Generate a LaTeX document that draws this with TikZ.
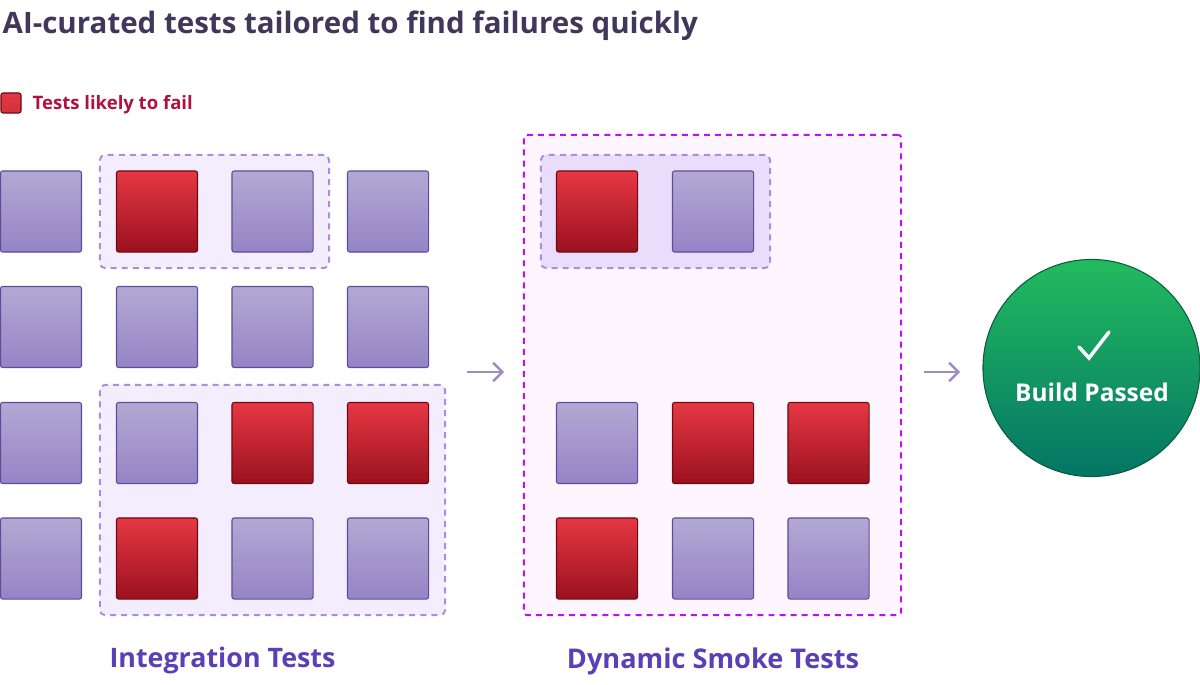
\documentclass[tikz,border=0pt]{standalone}
\usepackage{fontspec}
\setmainfont{Open Sans}
\usetikzlibrary{arrows.meta}

\definecolor{titleink}{HTML}{41375A}
\definecolor{failink}{HTML}{B0123F}
\definecolor{labelink}{HTML}{5B3FB5}
\definecolor{flowink}{HTML}{9A8CC4}
\definecolor{passtop}{HTML}{B3A8D3}
\definecolor{passbot}{HTML}{9584C6}
\definecolor{passline}{HTML}{5F4B9B}
\definecolor{failtop}{HTML}{E63744}
\definecolor{failbot}{HTML}{9B111E}
\definecolor{failline}{HTML}{6D0A12}
\definecolor{groupline}{HTML}{A58FE0}
\definecolor{groupfill}{HTML}{F4EDFE}
\definecolor{smokeline}{HTML}{C010F0}
\definecolor{smokefill}{HTML}{FEF6FE}
\definecolor{innerfill}{HTML}{E9DDFB}
\definecolor{greentop}{HTML}{22BB5E}
\definecolor{greenbot}{HTML}{047565}
\definecolor{greenline}{HTML}{0A5A3C}

\tikzset{
    testbox/.style={rectangle, rounded corners=0.6pt, minimum size=0.81cm, inner sep=0pt, line width=0.3pt},
    passbox/.style={testbox, top color=passtop, bottom color=passbot, draw=passline},
    failbox/.style={testbox, top color=failtop, bottom color=failbot, draw=failline},
    groupbox/.style={rectangle, rounded corners=1.4pt, inner sep=0pt, line width=0.55pt,
        dash pattern=on 1.7pt off 1.45pt, draw=groupline, fill=groupfill},
    flow/.style={->, line width=0.7pt, draw=flowink},
}

\begin{document}
\begin{tikzpicture}[x=0.01cm, y=-0.01cm, >={Straight Barb[length=2.6pt,width=5.2pt]}]
    \useasboundingbox (0,0) rectangle (1200,685);

    \node[anchor=base west, inner sep=0pt, text=titleink, font=\bfseries\fontsize{8.39pt}{10pt}\selectfont] (title) at (2,34)
        {AI-curated tests tailored to find failures quickly};

    % Legend
    \node[testbox, minimum size=0.2cm, top color=failtop, bottom color=failtop!90!black, draw=failline] (legendbox) at (11,103) {};
    \node[anchor=base west, inner sep=0pt, text=failink, font=\bfseries\fontsize{5.27pt}{6pt}\selectfont] (legendtext) at (32,110)
        {Tests likely to fail};

    % Dashed frames go first so the squares sit on top
    \node[groupbox, minimum width=2.29cm, minimum height=1.13cm] (groupa) at (214.5,211.5) {};
    \node[groupbox, minimum width=3.45cm, minimum height=2.30cm] (groupb) at (272.5,500) {};
    \node[groupbox, minimum width=3.77cm, minimum height=4.80cm, rounded corners=0.8pt,
        draw=smokeline, fill=smokefill] (smoke) at (712.5,375) {};
    \node[groupbox, minimum width=2.29cm, minimum height=1.13cm, fill=innerfill] (groupc) at (655.5,211.5) {};

    % Integration grid
    \foreach \name/\x/\y in {a1/41/211.5, a3/272.5/211.5, a4/388/211.5,
        b1/41/327, b2/157/327, b3/272.5/327, b4/388/327,
        c1/41/443, c2/157/443,
        d1/41/558.5, d3/272.5/558.5, d4/388/558.5} {
        \node[passbox] (\name) at (\x,\y) {};
    }
    \foreach \name/\x/\y in {a2/157/211.5, c3/272.5/443, c4/388/443, d2/157/558.5} {
        \node[failbox] (\name) at (\x,\y) {};
    }

    % Smoke grid
    \foreach \name/\x/\y in {e2/713/211.5, g1/597/443, h2/713/558.5, h3/828.5/558.5} {
        \node[passbox] (\name) at (\x,\y) {};
    }
    \foreach \name/\x/\y in {e1/597/211.5, g2/713/443, g3/828.5/443, h1/597/558.5} {
        \node[failbox] (\name) at (\x,\y) {};
    }

    \node[text=labelink, font=\bfseries\fontsize{7.63pt}{9pt}\selectfont] (intlabel) at (222.5,661) {Integration Tests};
    \node[text=labelink, font=\bfseries\fontsize{7.72pt}{9pt}\selectfont] (smokelabel) at (713,661) {Dynamic Smoke Tests};

    % Result circle, cut by the page edge on the right
    \node[circle, minimum size=2.17cm, inner sep=0pt, line width=0.3pt, draw=greenline,
        top color=greentop, bottom color=greenbot] (passed) at (1091.5,368) {};
    \draw[white, line width=1pt, line join=miter, line cap=round]
        (1079,347) -- (1089,358) -- (1109,332);
    \node[text=white, font=\bfseries\fontsize{6.95pt}{8pt}\selectfont] (passedtext) at (1092,392) {Build Passed};

    % Free ends of the two arrows
    \coordinate (flowa) at (467,372);
    \coordinate (flowb) at (504,372);
    \coordinate (flowc) at (924,372);
    \coordinate (flowd) at (960,372);
    \draw[flow] (flowa) -- (flowb);
    \draw[flow] (flowc) -- (flowd);
\end{tikzpicture}
\end{document}
